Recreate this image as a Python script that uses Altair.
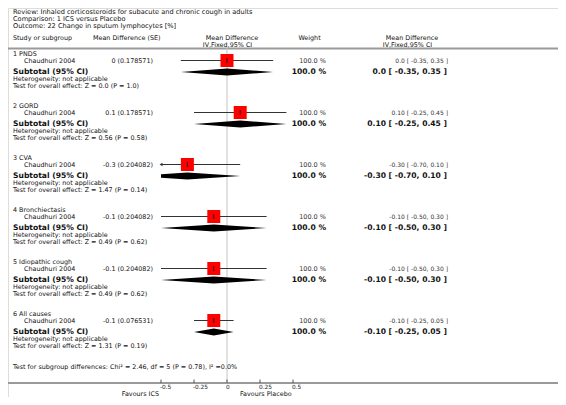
import altair as alt
import pandas as pd

# ---------------- data ----------------
title_lines = [
    "Review:  Inhaled corticosteroids for subacute and chronic cough in adults",
    "Comparison:  1 ICS versus Placebo",
    "Outcome:  22 Change in sputum lymphocytes [%]",
]
groups = ["1 PNDS", "2 GORD", "3 CVA", "4 Bronchiectasis", "5 Idiopathic cough", "6 All causes"]
studies = ["Chaudhuri 2004"] * 6
md = [0.0, 0.1, -0.3, -0.1, -0.1, -0.1]
se = [0.178571, 0.178571, 0.204082, 0.204082, 0.204082, 0.076531]
ci_lo = [-0.35, -0.25, -0.70, -0.50, -0.50, -0.25]
ci_hi = [0.35, 0.45, 0.10, 0.30, 0.30, 0.05]
est_labels = ["0.0", "0.10", "-0.30", "-0.10", "-0.10", "-0.10"]
weights = [100.0] * 6
z_text = ["Z = 0.0 (P = 1.0)", "Z = 0.56 (P = 0.58)", "Z = 1.47 (P = 0.14)",
          "Z = 0.49 (P = 0.62)", "Z = 0.49 (P = 0.62)", "Z = 1.31 (P = 0.19)"]
subgroup_test = "Test for subgroup differences: Chi\u00b2 = 2.46, df = 5 (P = 0.78), I\u00b2 =0.0%"
tick_vals = [-0.5, -0.25, 0, 0.25, 0.5]
tick_labels = ["-0.5", "-0.25", "0", "0.25", "0.5"]
favours = ["Favours ICS", "Favours Placebo"]

# ---------------- layout ----------------
FONT = "DejaVu Sans"
W, H = 550, 389
ZERO_PX = 219.0      # chart-pixel position of 0
PX_PER_UNIT = 132.0
LIM = 0.5
xs = alt.Scale(domain=[-ZERO_PX / PX_PER_UNIT, (W - ZERO_PX) / PX_PER_UNIT], nice=False, zero=False)
ys = alt.Scale(domain=[8, 8 + H], reverse=True, nice=False, zero=False)


def X(f):
    return alt.X(f, type="quantitative", scale=xs, axis=None)


def Y(f):
    return alt.Y(f, type="quantitative", scale=ys, axis=None)


def txt(texts, ys_, px, align="left", size=6.4, weight="normal", color="#111"):
    df = pd.DataFrame({"t": texts, "y": ys_})
    return alt.Chart(df).mark_text(
        align=align, baseline="middle", fontSize=size, fontWeight=weight, font=FONT, color=color
    ).encode(x=alt.value(px - 8), y=Y("y"), text="t:N")


n = len(groups)
y_label = [54 + 52 * i for i in range(n)]
y_study = [60.5 + 52 * i for i in range(n)]
y_sub = [72 + 52 * i for i in range(n)]
y_het = [79 + 52 * i for i in range(n)]
y_test = [85.5 + 52 * i for i in range(n)]

BOLD = 7.6
layers = []

# title & header
layers.append(txt(title_lines, [12, 19, 26], 13, size=6.6))
layers.append(txt(["Study or subgroup"], [38], 13))
layers.append(txt(["Mean Difference (SE)"], [38], 93))
layers.append(txt(["Mean Difference"], [38], 232, align="center"))
layers.append(txt(["IV,Fixed,95% CI"], [44.5], 227.5, align="center"))
layers.append(txt(["Weight"], [38], 309.5, align="center"))
layers.append(txt(["Mean Difference"], [38], 412, align="center"))
layers.append(txt(["IV,Fixed,95% CI"], [44.5], 407.5, align="center"))

# horizontal lines (header underline and axis line)
hl = pd.DataFrame({"y": [48.5, 383]})
layers.append(alt.Chart(hl).mark_rule(color="#9a9a9a", strokeWidth=2).encode(
    x=alt.value(0), x2=alt.value(W), y=Y("y")))

# zero line
zl = pd.DataFrame({"x": [0.0], "y": [48], "y2": [383]})
layers.append(alt.Chart(zl).mark_rule(color="#c4c4c4", strokeWidth=1).encode(
    x=X("x"), y=Y("y"), y2="y2:Q"))

# CI lines
ci = pd.DataFrame({
    "lo": [max(l, -LIM) for l in ci_lo],
    "hi": [min(h, LIM) for h in ci_hi],
    "y": y_study,
})
layers.append(alt.Chart(ci).mark_rule(color="#333333", strokeWidth=1).encode(
    x=X("lo"), x2="hi:Q", y=Y("y")))

# arrows for clipped CIs
arr_l = pd.DataFrame({"x": [-LIM for l in ci_lo if l < -LIM],
                      "y": [y_study[i] for i, l in enumerate(ci_lo) if l < -LIM]})
if len(arr_l):
    layers.append(alt.Chart(arr_l).mark_point(shape="triangle-left", filled=True, size=12,
                                              color="#333333", opacity=1).encode(x=X("x"), y=Y("y")))
arr_r = pd.DataFrame({"x": [LIM for h in ci_hi if h > LIM],
                      "y": [y_study[i] for i, h in enumerate(ci_hi) if h > LIM]})
if len(arr_r):
    layers.append(alt.Chart(arr_r).mark_point(shape="triangle-right", filled=True, size=12,
                                              color="#333333", opacity=1).encode(x=X("x"), y=Y("y")))

# squares
sq = pd.DataFrame({"x": md, "y": y_study, "w": weights})
layers.append(alt.Chart(sq).mark_square(size=169, color="#ff0000", opacity=1).encode(
    x=X("x"), y=Y("y")))
# centre tick
ct = pd.DataFrame({"x": md, "y": [v - 2.5 for v in y_study], "y2": [v + 2.5 for v in y_study]})
layers.append(alt.Chart(ct).mark_rule(color="#222222", strokeWidth=1).encode(
    x=X("x"), y=Y("y"), y2="y2:Q"))

# diamonds
HH = 3.5
drows = []
for i, (m, l, h) in enumerate(zip(md, ci_lo, ci_hi)):
    yc = y_sub[i]

    def half(xv):
        if xv <= m:
            return HH * (xv - l) / (m - l)
        return HH * (h - xv) / (h - m)

    for xv in [max(l, -LIM), m, min(h, LIM)]:
        drows.append({"g": i, "x": xv, "y": yc - half(xv), "y2": yc + half(xv)})
dd = pd.DataFrame(drows)
layers.append(alt.Chart(dd).mark_area(orient="vertical", color="#000000", opacity=1).encode(
    x=X("x"), y=Y("y"), y2="y2:Q", detail="g:N"))

# left text columns
layers.append(txt(groups, y_label, 13))
layers.append(txt(studies, y_study, 24))
layers.append(txt([f"{m:g} ({s})" for m, s in zip(md, se)], y_study, 153, align="right"))
layers.append(txt(["Subtotal (95% CI)"] * n, y_sub, 13, size=BOLD, weight="bold"))
layers.append(txt(["Heterogeneity: not applicable"] * n, y_het, 13))
layers.append(txt(["Test for overall effect: " + z for z in z_text], y_test, 13))

# right text columns
layers.append(txt([f"{w:.1f} %" for w in weights], y_study, 326, align="right", size=6.5, color="#333"))
layers.append(txt([f"{w:.1f} %" for w in weights], y_sub, 326, align="right", size=BOLD, weight="bold"))
ci_txt = [f"{e} [ {l:.2f}, {h:.2f} ]" for e, l, h in zip(est_labels, ci_lo, ci_hi)]
layers.append(txt(ci_txt, y_study, 448, align="right", size=6, color="#333"))
layers.append(txt(ci_txt, y_sub, 447, align="right", size=BOLD, weight="bold"))

# subgroup differences
layers.append(txt([subgroup_test], [367], 13))

# axis ticks and labels
tk = pd.DataFrame({"x": tick_vals, "y": [379.5] * 5, "y2": [383] * 5, "lab": tick_labels, "ly": [386.5] * 5})
layers.append(alt.Chart(tk).mark_rule(color="#555555", strokeWidth=1).encode(
    x=X("x"), y=Y("y"), y2="y2:Q"))
layers.append(alt.Chart(tk).mark_text(align="left", baseline="middle", fontSize=5.8, font=FONT,
                                      color="#222", dx=-1).encode(x=X("x"), y=Y("ly"), text="lab:N"))

# favours labels
layers.append(txt([favours[0]], [393.5], 159, align="right"))
layers.append(txt([favours[1]], [393.5], 240))

chart = alt.layer(*layers).properties(
    width=W, height=H, autosize=alt.AutoSizeParams(type="none"), padding=0
).configure_view(stroke=None).configure(background="white")

chart.save("out.html", embed_options={"renderer": "svg", "actions": False})
